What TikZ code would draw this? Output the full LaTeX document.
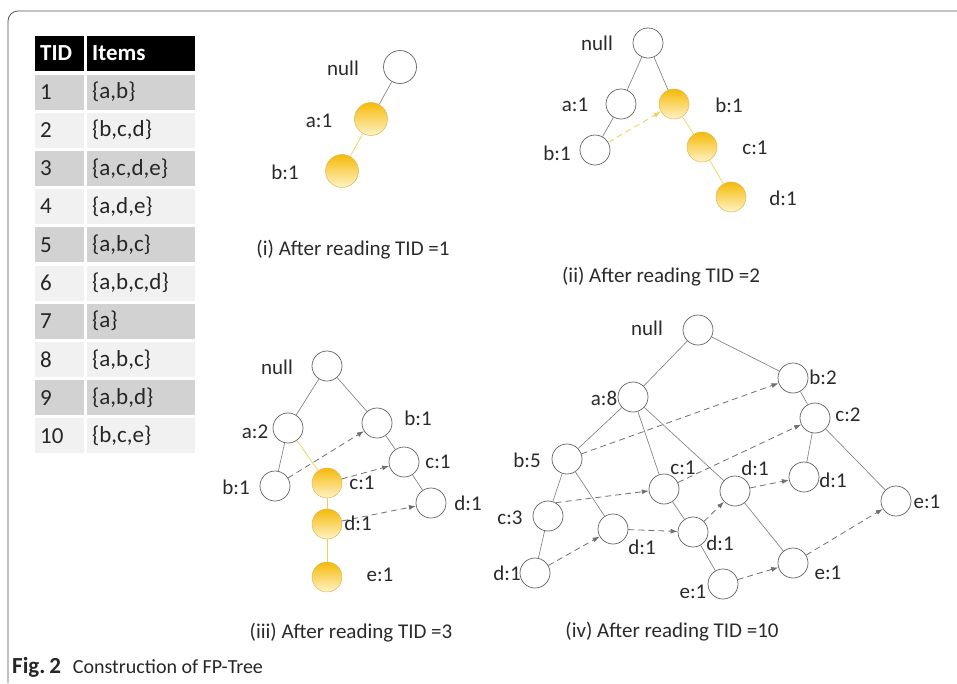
\documentclass[tikz,border=0pt]{standalone}
\usepackage{fontspec}
\setmainfont{Carlito}
\usetikzlibrary{arrows.meta}
\definecolor{edgegray}{HTML}{808080}
\definecolor{linkgray}{HTML}{707070}
\definecolor{nodegray}{HTML}{6A6A6A}
\definecolor{txt}{HTML}{2A2A2A}
\definecolor{goldtop}{HTML}{F5BA08}
\definecolor{goldbot}{HTML}{FFF3C8}
\definecolor{goldline}{HTML}{F0D050}
\definecolor{goldrim}{HTML}{D9B85A}
\definecolor{rowdark}{HTML}{D2D2D2}
\definecolor{rowlight}{HTML}{F1F1F1}
\definecolor{framegray}{HTML}{555555}
\begin{document}
\begin{tikzpicture}[x=1pt,y=-1pt,
  nd/.style={circle,draw=nodegray,line width=0.75pt,fill=white,minimum size=30pt,inner sep=0pt},
  ynd/.style={circle,draw=goldrim,line width=0.5pt,top color=goldtop,bottom color=goldbot,minimum size=30pt,inner sep=0pt},
  lbl/.style={text=txt,font=\fontsize{21}{24}\selectfont,inner sep=0pt},
  captxt/.style={text=txt,font=\fontsize{21}{24}\selectfont,inner sep=0pt},
  tedge/.style={draw=edgegray,line width=0.65pt},
  yedge/.style={draw=goldline,line width=0.7pt},
  link/.style={draw=linkgray,line width=0.8pt,dash pattern=on 6pt off 4pt,-{Latex[length=7pt,width=5pt]}},
  ylink/.style={link,draw=goldline},
  cell/.style={draw=none,minimum height=35pt,inner sep=0pt},
  ttxt/.style={text=black!85,font=\fontsize{23}{26}\selectfont,inner sep=0pt,anchor=west}
]
\useasboundingbox (0,0) rectangle (957,683);
% frame
\draw[framegray,line width=0.8pt,rounded corners=10pt] (8,683) -- (8,11) -- (957,11);

% ---------- table ----------
\node[cell,fill=black,minimum width=49pt] (hT) at (59.5,53) {};
\node[cell,fill=black,minimum width=108pt] (hI) at (141,53) {};
\node[ttxt,text=white,font=\fontsize{23}{26}\selectfont\bfseries] (hTt) at (40,53) {TID};
\node[ttxt,text=white,font=\fontsize{23}{26}\selectfont\bfseries] (hIt) at (92,53) {Items};
\foreach \i/\t in {1/{\{a,b\}},3/{\{a,c,d,e\}},5/{\{a,b,c\}},7/{\{a\}},9/{\{a,b,d\}}}{
  \pgfmathsetmacro{\yc}{92+38.2*(\i-1)}
  \node[cell,fill=rowdark,minimum width=49pt] (rT\i) at (59.5,\yc) {};
  \node[cell,fill=rowdark,minimum width=108pt] (rI\i) at (141,\yc) {};
  \node[ttxt] (rTt\i) at (40,\yc) {\i};
  \node[ttxt] (rIt\i) at (92,\yc) {\t};
}
\foreach \i/\t in {2/{\{b,c,d\}},4/{\{a,d,e\}},6/{\{a,b,c,d\}},8/{\{a,b,c\}},10/{\{b,c,e\}}}{
  \pgfmathsetmacro{\yc}{92+38.2*(\i-1)}
  \node[cell,fill=rowlight,minimum width=49pt] (rT\i) at (59.5,\yc) {};
  \node[cell,fill=rowlight,minimum width=108pt] (rI\i) at (141,\yc) {};
  \node[ttxt] (rTt\i) at (40,\yc) {\i};
  \node[ttxt] (rIt\i) at (92,\yc) {\t};
}

% ---------- (i) ----------
\node[nd,minimum size=33pt] (i0) at (400,67) {};
\node[ynd,minimum size=33pt] (ia) at (371,119) {};
\node[ynd,minimum size=33pt] (ib) at (342,171) {};
\node[lbl] (li0) at (343,68) {null};
\node[lbl] (lia) at (319,121) {a:1};
\node[lbl] (lib) at (285,172) {b:1};
\draw[tedge] (i0) -- (ia);
\draw[yedge] (ia) -- (ib);
\node[captxt] (capi) at (353,250) {(i) After reading TID =1};

% ---------- (ii) ----------
\node[nd] (ii0) at (648,43) {};
\node[nd] (iia) at (621,104) {};
\node[ynd] (iib) at (674,104) {};
\node[nd] (iiab) at (595,150) {};
\node[ynd] (iic) at (702,147) {};
\node[ynd] (iid) at (731,197) {};
\node[lbl] (lii0) at (597,43) {null};
\node[lbl] (liia) at (575,105) {a:1};
\node[lbl] (liib) at (729,105) {b:1};
\node[lbl] (liiab) at (557,153) {b:1};
\node[lbl] (liic) at (755,148) {c:1};
\node[lbl] (liid) at (783,198) {d:1};
\draw[tedge] (ii0) -- (iia);
\draw[tedge] (ii0) -- (iib);
\draw[tedge] (iia) -- (iiab);
\draw[yedge] (iib) -- (iic);
\draw[yedge] (iic) -- (iid);
\draw[ylink] (iiab) -- (iib);
\node[captxt] (capii) at (661,277) {(ii) After reading TID =2};

% ---------- (iii) ----------
\node[nd] (iii0) at (327,366) {};
\node[nd] (iiia) at (288,428) {};
\node[nd] (iiib) at (377,423) {};
\node[nd] (iiibc) at (404,462) {};
\node[nd] (iiibd) at (431,503) {};
\node[nd] (iiiab) at (275,486) {};
\node[ynd] (iiic) at (327,483) {};
\node[ynd] (iiid) at (327,524) {};
\node[ynd] (iiie) at (327,577) {};
\draw[tedge] (iii0) -- (iiia);
\draw[tedge] (iii0) -- (iiib);
\draw[tedge] (iiia) -- (iiiab);
\draw[tedge] (iiib) -- (iiibc);
\draw[tedge] (iiibc) -- (iiibd);
\draw[yedge] (iiia) -- (iiic);
\draw[yedge] (iiic) -- (iiid);
\draw[yedge] (iiid) -- (iiie);
\draw[link] (iiiab) -- (iiib);
\draw[link] (iiic) -- (iiibc);
\draw[link] (iiid) -- (iiibd);
\node[lbl] (liii0) at (277,367) {null};
\node[lbl] (liiia) at (255,432) {a:2};
\node[lbl] (liiib) at (418,418) {b:1};
\node[lbl] (liiibc) at (438,462) {c:1};
\node[lbl] (liiibd) at (468,503) {d:1};
\node[lbl] (liiiab) at (236,487) {b:1};
\node[lbl] (liiic) at (362,483) {c:1};
\node[lbl] (liiid) at (358,523) {d:1};
\node[lbl] (liiie) at (380,575) {e:1};
\node[captxt] (capiii) at (351,633) {(iii) After reading TID =3};

% ---------- (iv) ----------
\node[nd] (v0) at (698,330) {};
\node[nd] (vb2) at (793,378) {};
\node[nd] (va) at (633,397) {};
\node[nd] (vc2) at (815,418) {};
\node[nd] (vb5) at (567,459) {};
\node[nd] (vc1) at (664,489) {};
\node[nd] (vd1) at (735,491) {};
\node[nd] (vd2) at (804,477) {};
\node[nd] (ve2) at (896,501) {};
\node[nd] (vc3) at (548,516) {};
\node[nd] (vdb) at (613,529) {};
\node[nd] (vdc) at (693,532) {};
\node[nd] (vd3) at (535,573) {};
\node[nd] (vedc) at (723,584) {};
\node[nd] (ved1) at (793,563) {};
\draw[tedge] (v0) -- (va);
\draw[tedge] (v0) -- (vb2);
\draw[tedge] (vb2) -- (vc2);
\draw[tedge] (vc2) -- (vd2);
\draw[tedge] (vc2) -- (ve2);
\draw[tedge] (va) -- (vb5);
\draw[tedge] (va) -- (vc1);
\draw[tedge] (va) -- (vd1);
\draw[tedge] (vb5) -- (vc3);
\draw[tedge] (vb5) -- (vdb);
\draw[tedge] (vc3) -- (vd3);
\draw[tedge] (vc1) -- (vdc);
\draw[tedge] (vdc) -- (vedc);
\draw[tedge] (vd1) -- (ved1);
\draw[link] (vb5) -- (vb2);
\draw[link] (vc3.60) -- (vc1);
\draw[link] (vc1) -- (vc2);
\draw[link] (vd3) -- (vdb);
\draw[link] (vdb) -- (vdc);
\draw[link] (vdc) -- (vd1);
\draw[link] (vd1) -- (vd2);
\draw[link] (vedc) -- (ved1);
\draw[link] (ved1) -- (ve2);
\node[lbl] (lv0) at (647,328) {null};
\node[lbl] (lvb2) at (823,377) {b:2};
\node[lbl] (lva) at (604,398) {a:8};
\node[lbl] (lvc2) at (848,415) {c:2};
\node[lbl] (lvb5) at (527,460) {b:5};
\node[lbl] (lvc1) at (683,468) {c:1};
\node[lbl] (lvd1) at (755,468) {d:1};
\node[lbl] (lvd2) at (833,480) {d:1};
\node[lbl] (lve2) at (927,502) {e:1};
\node[lbl] (lvc3) at (510,518) {c:3};
\node[lbl] (lvdb) at (642,547) {d:1};
\node[lbl] (lvdc) at (720,543) {d:1};
\node[lbl] (lvd3) at (507,573) {d:1};
\node[lbl] (lvedc) at (693,592) {e:1};
\node[lbl] (lved1) at (828,573) {e:1};
\node[captxt] (capiv) at (672,632) {(iv) After reading TID =10};

% ---------- figure caption ----------
\node[text=black!85,font=\fontsize{20}{24}\selectfont,inner sep=0pt,anchor=west] (figcap) at (12,667) {{\fontsize{23}{24}\selectfont\bfseries Fig.\,2}\hspace{12pt}Construction of FP-Tree};
\end{tikzpicture}
\end{document}
